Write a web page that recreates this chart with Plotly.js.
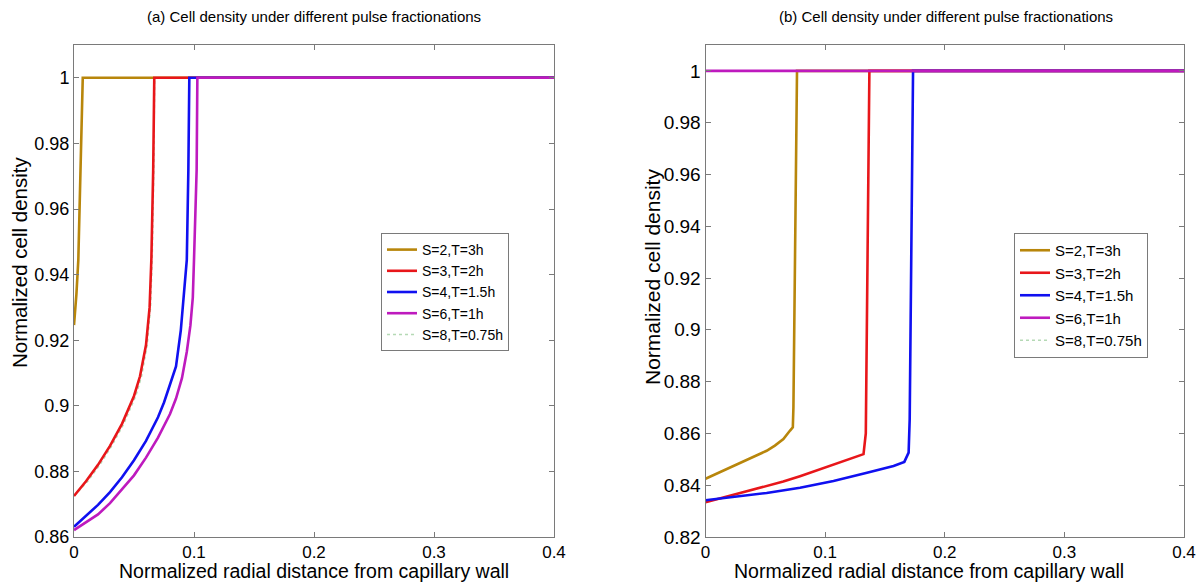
<!DOCTYPE html>
<html>
<head>
<meta charset="utf-8">
<script src="https://cdn.plot.ly/plotly-3.0.1.min.js"></script>
<style>html,body{margin:0;padding:0;background:#fff;}#chart{width:1200px;height:583px;}</style>
</head>
<body>
<div id="chart"></div>
<script>
// ---- Panel (a) data ----
const a_S2_x = [0, 0.001, 0.002, 0.0036, 0.0056, 0.0073, 0.4];
const a_S2_y = [0.9246, 0.929, 0.934, 0.9445, 0.9719, 1.0, 1.0];
const a_S3_x = [0, 0.01, 0.02, 0.03, 0.04, 0.05, 0.055, 0.06, 0.063, 0.0645, 0.066, 0.0669, 0.4];
const a_S3_y = [0.8725, 0.877, 0.882, 0.8878, 0.8945, 0.903, 0.909, 0.9185, 0.93, 0.945, 0.972, 1.0, 1.0];
const a_S4_x = [0, 0.01, 0.02, 0.03, 0.04, 0.05, 0.06, 0.07, 0.075, 0.08, 0.085, 0.089, 0.092, 0.094, 0.0953, 0.0961, 0.4];
const a_S4_y = [0.8631, 0.8664, 0.8698, 0.8737, 0.8782, 0.8834, 0.8893, 0.8965, 0.901, 0.9065, 0.912, 0.923, 0.935, 0.9445, 0.9719, 1.0, 1.0];
const a_S6_x = [0, 0.01, 0.02, 0.03, 0.04, 0.05, 0.06, 0.07, 0.08, 0.085, 0.09, 0.094, 0.097, 0.099, 0.1, 0.1022, 0.1028, 0.4];
const a_S6_y = [0.8621, 0.8644, 0.8669, 0.8703, 0.8745, 0.8788, 0.8842, 0.8903, 0.8975, 0.9022, 0.9085, 0.9165, 0.9245, 0.933, 0.9445, 0.9719, 1.0, 1.0];
const a_S8_x = [0, 0.0115, 0.0215, 0.0315, 0.0415, 0.0515, 0.0563, 0.061, 0.0638, 0.0652, 0.0665, 0.0672, 0.4];
const a_S8_y = [0.8725, 0.877, 0.882, 0.8878, 0.8945, 0.903, 0.909, 0.9185, 0.93, 0.945, 0.972, 1.0, 1.0];

// ---- Panel (b) data ----
const b_S2_x = [0, 0.01, 0.0231, 0.035, 0.0511, 0.058, 0.0651, 0.0707, 0.073, 0.0735, 0.0765, 0.4];
const b_S2_y = [0.8425, 0.8446, 0.8474, 0.85, 0.8533, 0.8553, 0.8578, 0.8611, 0.8624, 0.87, 1.0, 1.0];
const b_S3_x = [0, 0.01, 0.0231, 0.035, 0.0511, 0.065, 0.079, 0.093, 0.107, 0.12, 0.1321, 0.134, 0.137, 0.4];
const b_S3_y = [0.8334, 0.8346, 0.8364, 0.8379, 0.8396, 0.8414, 0.8435, 0.8457, 0.8481, 0.8501, 0.852, 0.86, 1.0, 1.0];
const b_S4_x = [0, 0.0231, 0.0511, 0.079, 0.107, 0.135, 0.1572, 0.1662, 0.1698, 0.1707, 0.1735, 0.4];
const b_S4_y = [0.8342, 0.8355, 0.837, 0.839, 0.8416, 0.8448, 0.8474, 0.849, 0.8526, 0.8656, 1.0, 1.0];
const b_S6_x = [0, 0.4];
const b_S6_y = [1.0, 1.0];
const b_S8_x = [0, 0.4];
const b_S8_y = [1.0, 1.0];

const seriesNames = ["S=2,T=3h", "S=3,T=2h", "S=4,T=1.5h", "S=6,T=1h", "S=8,T=0.75h"];
const xTickVals = [0, 0.1, 0.2, 0.3, 0.4];
const xTickText = ["0", "0.1", "0.2", "0.3", "0.4"];
const aYTickVals = [0.86, 0.88, 0.9, 0.92, 0.94, 0.96, 0.98, 1];
const aYTickText = ["0.86", "0.88", "0.9", "0.92", "0.94", "0.96", "0.98", "1"];
const bYTickVals = [0.82, 0.84, 0.86, 0.88, 0.9, 0.92, 0.94, 0.96, 0.98, 1];
const bYTickText = ["0.82", "0.84", "0.86", "0.88", "0.9", "0.92", "0.94", "0.96", "0.98", "1"];

const colors = ["#B8860B", "#E8161A", "#1010F0", "#BE1ABE", "#B5D9B5"];
const FONT = "Liberation Sans, Arial, sans-serif";

function tr(x, y, i, panel) {
  const dotted = (i === 4);
  return {
    x: x, y: y, type: "scatter", mode: "lines", name: seriesNames[i],
    legendrank: i + 1,
    xaxis: panel === "a" ? "x" : "x2",
    yaxis: panel === "a" ? "y" : "y2",
    legend: panel === "a" ? "legend" : "legend2",
    line: {color: colors[i], width: dotted ? 1.5 : 2.6, dash: dotted ? "dot" : "solid"}
  };
}

// S=8 drawn first (underneath), legend order kept by legendrank
const data = [
  tr(a_S8_x, a_S8_y, 4, "a"),
  tr(a_S2_x, a_S2_y, 0, "a"), tr(a_S3_x, a_S3_y, 1, "a"), tr(a_S4_x, a_S4_y, 2, "a"),
  tr(a_S6_x, a_S6_y, 3, "a"),
  tr(b_S8_x, b_S8_y, 4, "b"),
  tr(b_S2_x, b_S2_y, 0, "b"), tr(b_S3_x, b_S3_y, 1, "b"), tr(b_S4_x, b_S4_y, 2, "b"),
  tr(b_S6_x, b_S6_y, 3, "b")
];

const axCommon = {
  showline: true, linecolor: "#7a7a7a", linewidth: 1, mirror: "ticks",
  ticks: "inside", ticklen: 5, tickcolor: "#7a7a7a", showgrid: false, zeroline: false,
  tickmode: "array"
};
const yDom = [46/583, 538/583];

const legendCommon = {xanchor: "left", yanchor: "top", bgcolor: "#fff",
  bordercolor: "#7a7a7a", borderwidth: 1, font: {size: 14, family: FONT},
  tracegroupgap: 0, traceorder: "normal"};

const layout = {
  width: 1200, height: 583,
  margin: {l: 0, r: 0, t: 0, b: 0},
  paper_bgcolor: "#fff", plot_bgcolor: "#fff",
  font: {family: FONT, color: "#000"},
  showlegend: true,
  xaxis: Object.assign({}, axCommon, {domain: [74/1200, 554/1200], range: [0, 0.4],
    tickvals: xTickVals, ticktext: xTickText, tickfont: {size: 17, family: FONT}, anchor: "y"}),
  yaxis: Object.assign({}, axCommon, {domain: yDom, range: [0.86, 1.01],
    tickvals: aYTickVals, ticktext: aYTickText, tickfont: {size: 18, family: FONT}, anchor: "x"}),
  xaxis2: Object.assign({}, axCommon, {domain: [705.5/1200, 1184/1200], range: [0, 0.4],
    tickvals: xTickVals, ticktext: xTickText, tickfont: {size: 17, family: FONT}, anchor: "y2"}),
  yaxis2: Object.assign({}, axCommon, {domain: yDom, range: [0.82, 1.01],
    tickvals: bYTickVals, ticktext: bYTickText, tickfont: {size: 19, family: FONT}, anchor: "x2"}),
  legend: Object.assign({}, legendCommon, {x: 381/1200, y: (583-233)/583}),
  legend2: Object.assign({}, legendCommon, {x: 1014/1200, y: (583-233)/583, font: {size: 15, family: FONT}}),
  annotations: [
    {text: "(a) Cell density under different pulse fractionations", xref: "paper", yref: "paper",
     x: 314/1200, y: (583-16)/583, xanchor: "center", yanchor: "middle", showarrow: false,
     font: {size: 15, family: FONT}},
    {text: "(b) Cell density under different pulse fractionations", xref: "paper", yref: "paper",
     x: 946/1200, y: (583-16)/583, xanchor: "center", yanchor: "middle", showarrow: false,
     font: {size: 15, family: FONT}},
    {text: "Normalized radial distance from capillary wall", xref: "paper", yref: "paper",
     x: 314/1200, y: 0, xanchor: "center", yanchor: "bottom", showarrow: false, borderpad: 0,
     font: {size: 19.5, family: FONT}},
    {text: "Normalized radial distance from capillary wall", xref: "paper", yref: "paper",
     x: 929/1200, y: 0, xanchor: "center", yanchor: "bottom", showarrow: false, borderpad: 0,
     font: {size: 19.5, family: FONT}},
    {text: "Normalized cell density", xref: "paper", yref: "paper", textangle: -90,
     x: 20/1200, y: (583-262)/583, xanchor: "center", yanchor: "middle", showarrow: false,
     font: {size: 20.5, family: FONT}},
    {text: "Normalized cell density", xref: "paper", yref: "paper", textangle: -90,
     x: 652/1200, y: (583-277)/583, xanchor: "center", yanchor: "middle", showarrow: false,
     font: {size: 21, family: FONT}}
  ]
};

Plotly.newPlot("chart", data, layout, {displayModeBar: false, staticPlot: true});
</script>
</body>
</html>
